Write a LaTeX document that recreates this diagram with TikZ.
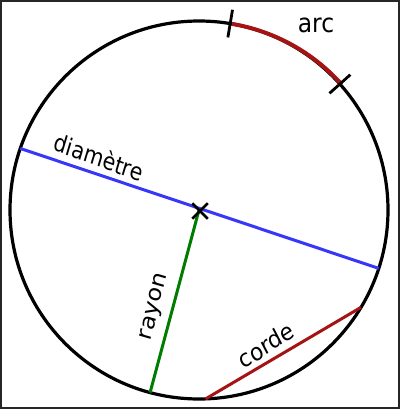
\documentclass[tikz,border=0pt]{standalone}
\usepackage{fontspec}
\setmainfont{DejaVu Sans}
\usetikzlibrary{shapes.misc,calc}
\definecolor{arcred}{RGB}{165,20,20}
\definecolor{diamblue}{RGB}{55,55,250}
\definecolor{raygreen}{RGB}{0,125,0}
\begin{document}
\begin{tikzpicture}[x=1pt,y=-1pt,
  rim/.style={circle,draw=black,line width=3.2pt,minimum size=378pt,inner sep=0pt,outer sep=0pt},
  seg/.style={line width=3pt},
  tick/.style={line width=2.8pt,black},
  lbl/.style={font=\fontsize{24}{28}\selectfont,inner sep=0pt,xscale=0.9}]
\useasboundingbox (0,0) rectangle (400,409);
\fill[white] (0,0) rectangle (400,409);
\draw[line width=2pt,black!85] (1,1) rectangle (399,408);
% circle, diameter, radius, chord
\node[rim] (C) at (199,210) {};
\draw[seg,diamblue] (C.161.6) -- (C.-18.4);
\draw[seg,raygreen] (C.center) -- (C.255.4);
\draw[seg,arcred] (C.272) -- (C.329);
% arc
\draw[line width=4pt,arcred] (C.80.5) arc[start angle=80.5,end angle=41.8,radius=189pt];
% ticks
\coordinate (t1a) at ($(C.center)+(80.5:175pt)$);
\coordinate (t1b) at ($(C.center)+(80.5:203pt)$);
\coordinate (t2a) at ($(C.center)+(41.8:175pt)$);
\coordinate (t2b) at ($(C.center)+(41.8:203pt)$);
\draw[tick] (t1a) -- (t1b);
\draw[tick] (t2a) -- (t2b);
% centre cross
\node[cross out,draw=black,line width=2.5pt,minimum size=13pt,inner sep=0pt] (O) at (200,211) {};
% labels
\node[lbl,font=\fontsize{26}{30}\selectfont] (la) at (316,25) {arc};
\node[lbl,rotate=-18.4,xscale=0.95] (ld) at (99,157) {diamètre};
\node[lbl,rotate=75.4] (lr) at (155,307) {rayon};
\node[lbl,rotate=30.2] (lc) at (266,345) {corde};
\end{tikzpicture}
\end{document}
